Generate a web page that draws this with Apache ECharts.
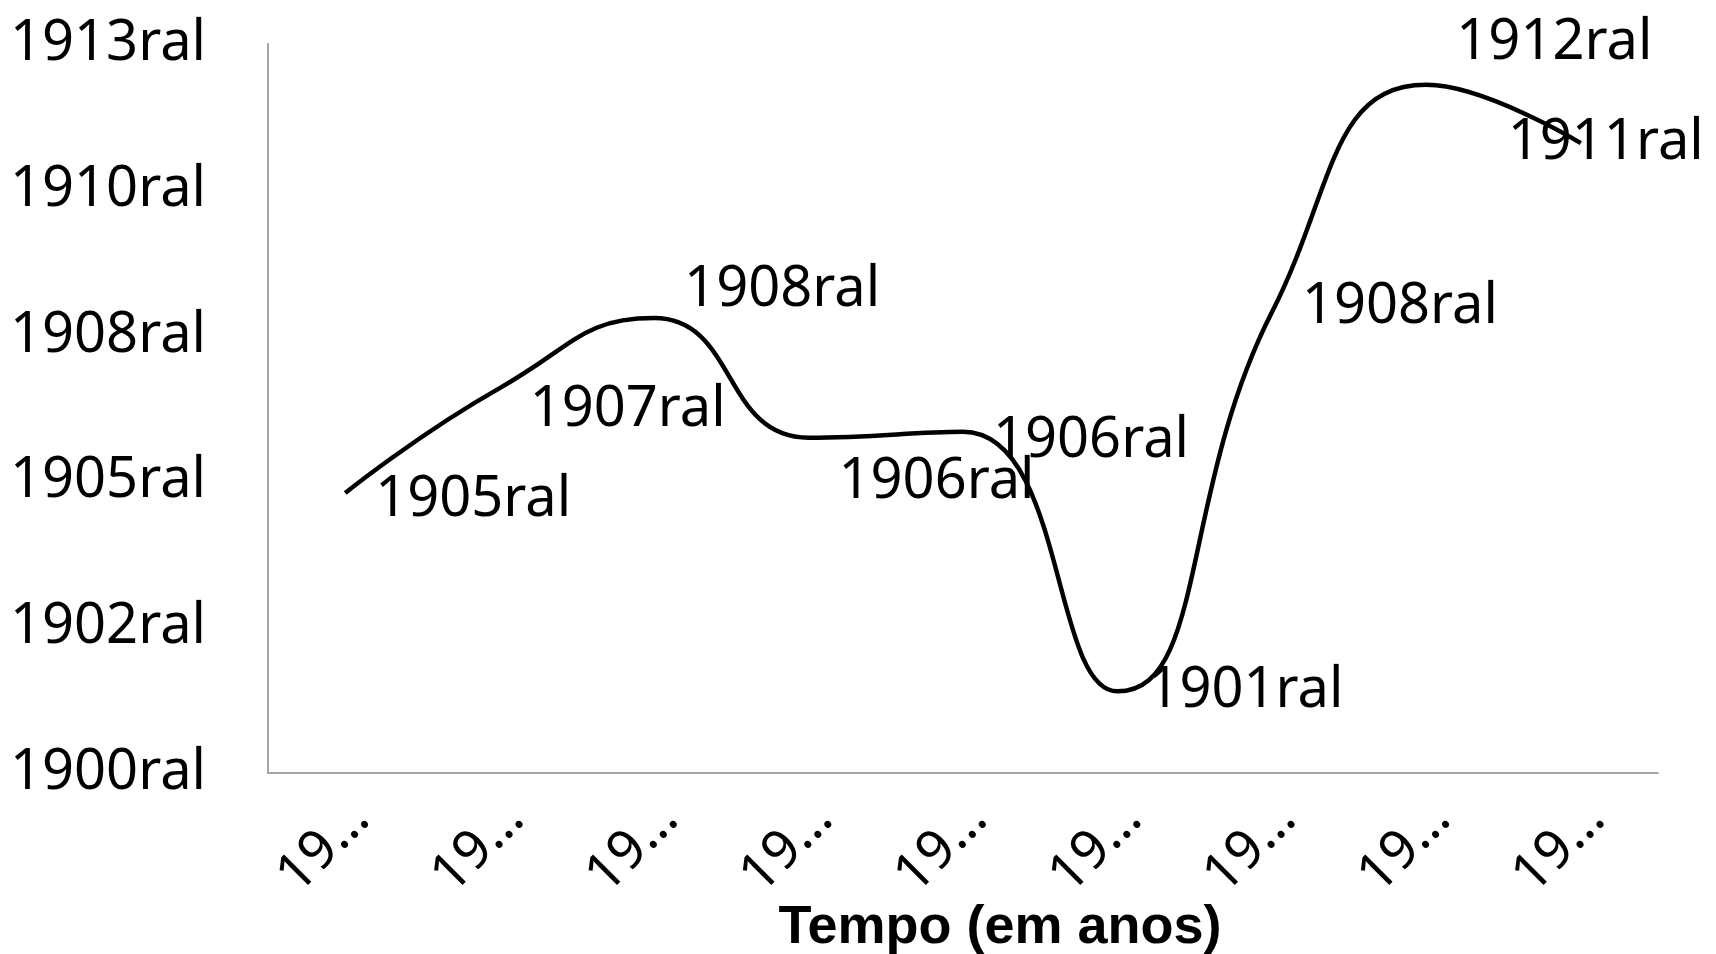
<!DOCTYPE html>
<html>
<head>
<meta charset="utf-8">
<script src="https://cdn.jsdelivr.net/npm/echarts@6/dist/echarts.min.js"></script>
<style>
  html, body { margin: 0; padding: 0; background: #fff; }
  #main { width: 1716px; height: 954px; }
</style>
</head>
<body>
<div id="main"></div>
<script>
// categories are truncated in the original chart
const categories = ['19…', '19…', '19…', '19…', '19…', '19…', '19…', '19…', '19…'];
const values = [1904.8, 1906.6, 1907.8, 1905.75, 1905.85, 1901.4, 1907.9, 1911.8, 1910.8];
const valueLabels = ['1905ral', '1907ral', '1908ral', '1906ral', '1906ral', '1901ral', '1908ral', '1912ral', '1911ral'];
const yTickLabels = ['1900ral', '1902ral', '1905ral', '1908ral', '1910ral', '1913ral'];

// small nudges so labels sit like the original
const labelNudge = [[0, 7], [0, 22], [0, -28], [0, 44], [0, 9], [0, 0], [0, -5], [0, -42], [-103, 0]];

const font = '"Noto Sans", sans-serif';
const chart = echarts.init(document.getElementById('main'));

const option = {
  animation: false,
  grid: { left: 268, right: 58, top: 44, bottom: 181, containLabel: false, outerBoundsMode: 'none' },
  xAxis: {
    type: 'category',
    data: categories,
    boundaryGap: true,
    axisLine: { show: true, lineStyle: { color: '#a6a6a6', width: 2 } },
    axisTick: { show: false },
    axisLabel: {
      interval: 0,
      rotate: 45,
      margin: 53,
      color: '#000',
      fontFamily: font,
      fontSize: 54,
      padding: [0, -22, 0, 0]
    },
    name: 'Tempo (em anos)',
    nameLocation: 'middle',
    nameGap: 128,
    nameMoveOverlap: false,
    nameTextStyle: {
      color: '#000',
      fontFamily: '"Liberation Sans", Arial, sans-serif',
      fontWeight: 'bold',
      fontSize: 54,
      padding: [0, 0, 0, 74]
    }
  },
  yAxis: {
    type: 'value',
    min: 1900,
    max: 1912.5,
    interval: 2.5,
    axisLine: { show: true, lineStyle: { color: '#a6a6a6', width: 2 } },
    axisTick: { show: false },
    splitLine: { show: false },
    axisLabel: {
      margin: 62,
      color: '#000',
      fontFamily: font,
      fontSize: 56,
      formatter: v => yTickLabels[Math.round((v - 1900) / 2.5)]
    }
  },
  series: [{
    type: 'line',
    data: values.map((v, i) => ({
      value: v,
      label: { offset: labelNudge[i] }
    })),
    smooth: 0.5,
    symbol: 'circle',
    symbolSize: 0,
    lineStyle: { color: '#000', width: 4.5 },
    label: {
      show: true,
      position: 'right',
      distance: 30,
      color: '#000',
      fontFamily: font,
      fontSize: 56,
      formatter: p => valueLabels[p.dataIndex]
    }
  }]
};

chart.setOption(option);
</script>
</body>
</html>
